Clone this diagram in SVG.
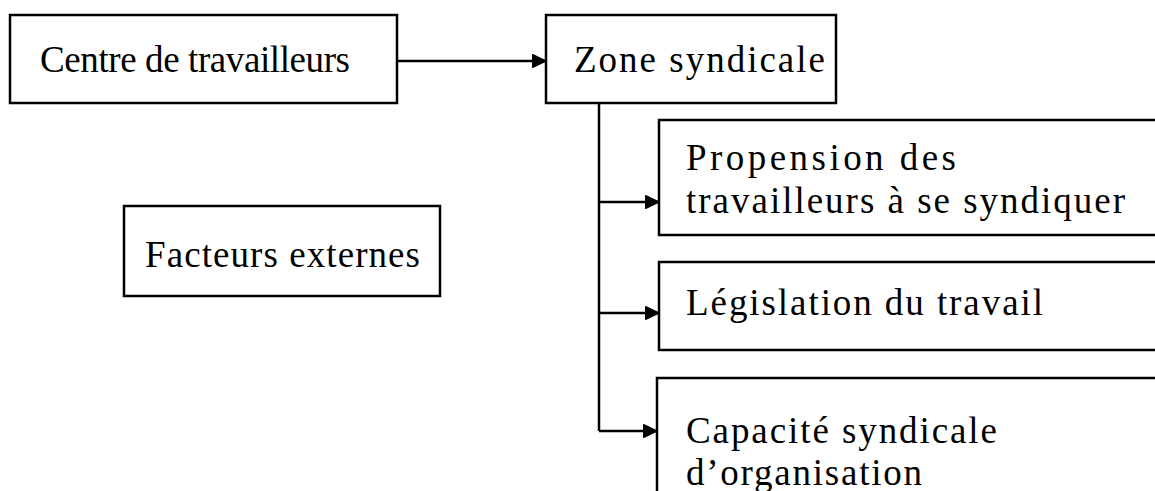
<svg xmlns="http://www.w3.org/2000/svg" width="1155" height="491" viewBox="0 0 1155 491">
<defs>
<style>
.box{fill:#fff;stroke:#000;stroke-width:2.5}
.t{font-family:"Liberation Serif","Times New Roman",serif;font-size:37px;fill:#000}
.c{fill:none;stroke:#000;stroke-width:2.5}
</style>
<marker id="ah" viewBox="0 0 10 10" refX="10" refY="5" markerWidth="14" markerHeight="14" markerUnits="userSpaceOnUse" orient="auto">
<path d="M0.5,0.5 L10,5 L0.5,9.5 z" fill="#000" stroke="#000" stroke-width="1" stroke-linejoin="round"/>
</marker>
</defs>
<rect width="1155" height="491" fill="#fff"/>
<g id="connectors">
<line class="c" x1="397" y1="61" x2="546" y2="61" marker-end="url(#ah)"/>
<line class="c" x1="599" y1="103" x2="599" y2="431"/>
<line class="c" x1="599" y1="202" x2="659" y2="202" marker-end="url(#ah)"/>
<line class="c" x1="599" y1="313" x2="659" y2="313" marker-end="url(#ah)"/>
<line class="c" x1="599" y1="431" x2="657" y2="431" marker-end="url(#ah)"/>
</g>
<g id="centre">
<rect class="box" x="10" y="15" width="387" height="88"/>
<text class="t" x="40" y="72" textLength="310" lengthAdjust="spacing">Centre de travailleurs</text>
</g>
<g id="zone">
<rect class="box" x="546" y="15" width="290" height="88"/>
<text class="t" x="574" y="72" textLength="251" lengthAdjust="spacing">Zone syndicale</text>
</g>
<g id="facteurs">
<rect class="box" x="124" y="206" width="316" height="90"/>
<text class="t" x="145" y="267" textLength="275" lengthAdjust="spacing">Facteurs externes</text>
</g>
<g id="propension">
<rect class="box" x="659" y="120" width="510" height="115"/>
<text class="t" x="686" y="170" textLength="270" lengthAdjust="spacing">Propension des</text>
<text class="t" x="686" y="213" textLength="439" lengthAdjust="spacing">travailleurs à se syndiquer</text>
</g>
<g id="legislation">
<rect class="box" x="659" y="262" width="510" height="88"/>
<text class="t" x="686" y="315" textLength="357" lengthAdjust="spacing">Législation du travail</text>
</g>
<g id="capacite">
<rect class="box" x="657" y="378" width="510" height="130"/>
<text class="t" x="686" y="443" textLength="311" lengthAdjust="spacing">Capacité syndicale</text>
<text class="t" x="686" y="485" textLength="236" lengthAdjust="spacing">d’organisation</text>
</g>
</svg>
